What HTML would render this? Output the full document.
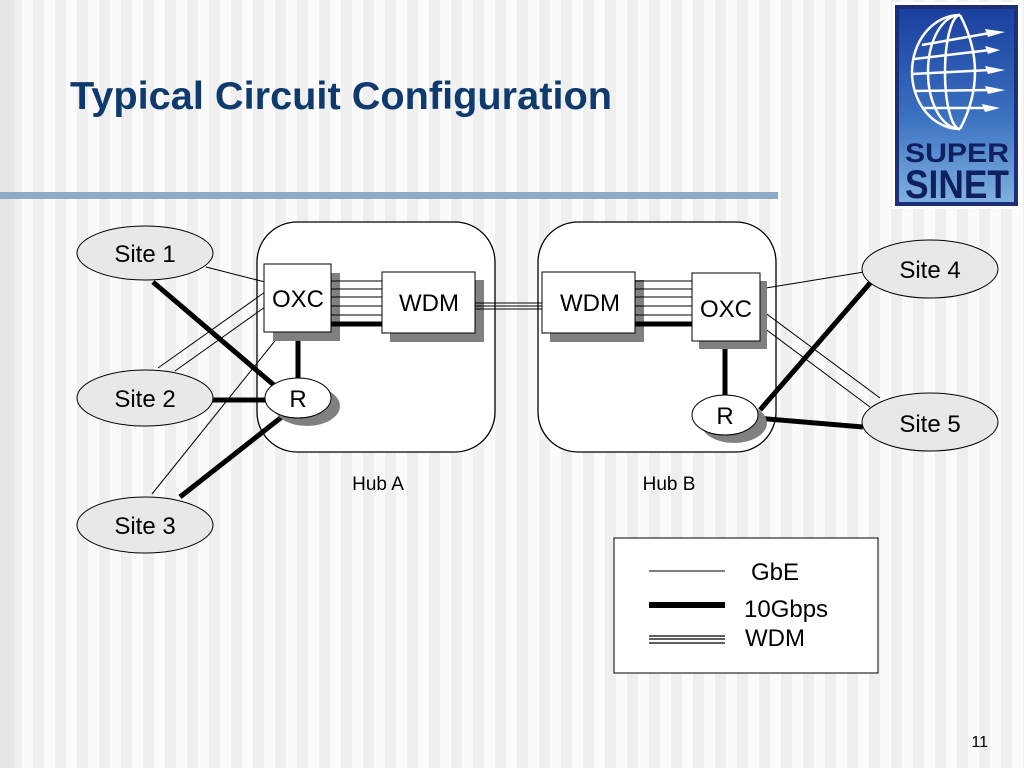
<!DOCTYPE html>
<html><head><meta charset="utf-8"><style>
html,body{margin:0;padding:0;width:1024px;height:768px;overflow:hidden;
background:repeating-linear-gradient(90deg,#fbfbfb 0px,#fbfbfb 11px,#efefef 11px,#efefef 22px);}
svg{position:absolute;left:0;top:0}
text{font-family:"Liberation Sans",Arial,sans-serif}
</style></head><body>
<svg width="1024" height="768" viewBox="0 0 1024 768">
<defs>
<linearGradient id="lg" x1="0" y1="0" x2="0" y2="1">
<stop offset="0" stop-color="#1a3f9e"/><stop offset="0.55" stop-color="#3b70c0"/><stop offset="1" stop-color="#7fb0e0"/>
</linearGradient>
</defs>
<rect x="0" y="0" width="14" height="768" fill="#e6e6e6"/>
<text x="70" y="109" font-size="39" font-weight="bold" fill="#0e3a6e" textLength="542" lengthAdjust="spacingAndGlyphs">Typical Circuit Configuration</text>
<rect x="0" y="192" width="778" height="7" fill="#8eaacb"/>

<!-- logo -->
<rect x="892" y="2" width="129" height="207" fill="#fff"/>
<rect x="895" y="5" width="123" height="201" fill="#1b2f78"/>
<rect x="899" y="9" width="115" height="193" fill="url(#lg)"/>
<g stroke="#fff" stroke-width="2.5" fill="none">
<path d="M960 15 A48 57 0 0 0 960 129"/>
<path d="M960 15 A32 57 0 0 0 960 129"/>
<path d="M960 15 A15 57 0 0 0 960 129"/>
<path d="M960 15 Q990 72 960 129"/>
<line x1="922" y1="45" x2="990" y2="33"/>
<line x1="914" y1="59" x2="990" y2="50"/>
<line x1="912" y1="74" x2="990" y2="70"/>
<line x1="914" y1="91" x2="990" y2="90"/>
<line x1="922" y1="108" x2="990" y2="108"/>
</g>
<g fill="#fff">
<polygon points="985,29 1005,32 988,37"/>
<polygon points="985,46 1000,50 988,54"/>
<polygon points="985,66 1005,70 988,74"/>
<polygon points="985,86 1005,90 988,94"/>
<polygon points="982,104 1000,108 985,112"/>
</g>
<text x="957" y="162" font-size="27" font-weight="bold" fill="#0f1f60" text-anchor="middle" textLength="104" lengthAdjust="spacingAndGlyphs">SUPER</text>
<text x="957" y="198" font-size="40" font-family="Liberation Serif" font-weight="bold" fill="#0f1f60" text-anchor="middle" textLength="104" lengthAdjust="spacingAndGlyphs">SINET</text>

<!-- hubs -->
<rect x="257" y="222" width="238" height="230" rx="40" fill="#fff" stroke="#000" stroke-width="1.3"/>
<rect x="538" y="222" width="238" height="230" rx="40" fill="#fff" stroke="#000" stroke-width="1.3"/>

<g stroke="#000" fill="none">
<line x1="206" y1="267" x2="265" y2="282" stroke-width="1"/>
<line x1="158" y1="368" x2="265" y2="292" stroke-width="1"/>
<line x1="175" y1="371" x2="265" y2="307" stroke-width="1"/>
<line x1="152" y1="494" x2="282" y2="332" stroke-width="1"/>
<line x1="153" y1="282" x2="275" y2="386" stroke-width="5"/>
<line x1="212" y1="400" x2="266" y2="400" stroke-width="5"/>
<line x1="180" y1="497" x2="283" y2="416" stroke-width="5"/>
<line x1="298" y1="330" x2="298" y2="380" stroke-width="5"/>
<line x1="760" y1="289" x2="864" y2="272" stroke-width="1"/>
<line x1="760" y1="309" x2="880" y2="398" stroke-width="1"/>
<line x1="760" y1="325" x2="870" y2="407" stroke-width="1"/>
<line x1="871" y1="282" x2="760" y2="410" stroke-width="5"/>
<line x1="756" y1="418" x2="863" y2="427" stroke-width="5"/>
<line x1="725" y1="338" x2="725" y2="396" stroke-width="5"/>
</g>

<g fill="#808080">
<rect x="273" y="273" width="67" height="68"/>
<rect x="390" y="280" width="94" height="62"/>
<rect x="550" y="280" width="94" height="62"/>
<rect x="699" y="281" width="68" height="68"/>
<ellipse cx="307" cy="406" rx="33" ry="20"/>
<ellipse cx="734" cy="423" rx="33" ry="20"/>
</g>

<g stroke="#000">
<g stroke-width="1">
<line x1="331" y1="281" x2="382" y2="281"/><line x1="331" y1="289" x2="382" y2="289"/>
<line x1="331" y1="297" x2="382" y2="297"/><line x1="331" y1="306" x2="382" y2="306"/>
<line x1="331" y1="315" x2="382" y2="315"/>
<line x1="635" y1="281" x2="692" y2="281"/><line x1="635" y1="289" x2="692" y2="289"/>
<line x1="635" y1="297" x2="692" y2="297"/><line x1="635" y1="306" x2="692" y2="306"/>
<line x1="635" y1="315" x2="692" y2="315"/>
<line x1="475" y1="303" x2="542" y2="303"/><line x1="475" y1="306" x2="542" y2="306"/>
<line x1="475" y1="309" x2="542" y2="309"/>
</g>
<line x1="331" y1="324" x2="382" y2="324" stroke-width="5"/>
<line x1="635" y1="324" x2="692" y2="324" stroke-width="5"/>
</g>

<g fill="#fff" stroke="#000" stroke-width="1">
<rect x="264" y="264" width="67" height="68"/>
<rect x="382" y="272" width="93" height="61"/>
<rect x="542" y="272" width="93" height="61"/>
<rect x="692" y="273" width="68" height="68"/>
<ellipse cx="298" cy="398" rx="33" ry="20"/>
<ellipse cx="725" cy="415" rx="33" ry="20"/>
</g>
<g font-size="24" text-anchor="middle" fill="#000">
<text x="298" y="307">OXC</text>
<text x="429" y="311">WDM</text>
<text x="590" y="311">WDM</text>
<text x="726" y="317">OXC</text>
<text x="298" y="407">R</text>
<text x="725" y="424">R</text>
</g>

<g fill="#e8e8e8" stroke="#000" stroke-width="1">
<ellipse cx="145" cy="253" rx="68" ry="27"/>
<ellipse cx="145" cy="398" rx="68" ry="28"/>
<ellipse cx="145" cy="525" rx="68" ry="28"/>
<ellipse cx="930" cy="269" rx="68" ry="29"/>
<ellipse cx="930" cy="422" rx="68" ry="29"/>
</g>
<g font-size="24" text-anchor="middle" fill="#000">
<text x="145" y="262">Site 1</text>
<text x="145" y="407">Site 2</text>
<text x="145" y="534">Site 3</text>
<text x="930" y="278">Site 4</text>
<text x="930" y="432">Site 5</text>
</g>
<g font-size="19" text-anchor="middle" fill="#000">
<text x="378" y="490">Hub A</text>
<text x="669" y="490">Hub B</text>
</g>

<rect x="614" y="538" width="264" height="135" fill="#fff" stroke="#000" stroke-width="1"/>
<line x1="649" y1="571" x2="725" y2="571" stroke="#000" stroke-width="1"/>
<line x1="649" y1="605" x2="725" y2="605" stroke="#000" stroke-width="6"/>
<g stroke="#000" stroke-width="1.2">
<line x1="649" y1="636" x2="725" y2="636"/><line x1="649" y1="639" x2="725" y2="639"/><line x1="649" y1="643" x2="725" y2="643"/>
</g>
<g font-size="24" fill="#000">
<text x="751" y="580">GbE</text>
<text x="744" y="617">10Gbps</text>
<text x="745" y="646">WDM</text>
</g>
<text x="988" y="747" font-size="16" text-anchor="end" fill="#000">11</text>
</svg>
</body></html>
